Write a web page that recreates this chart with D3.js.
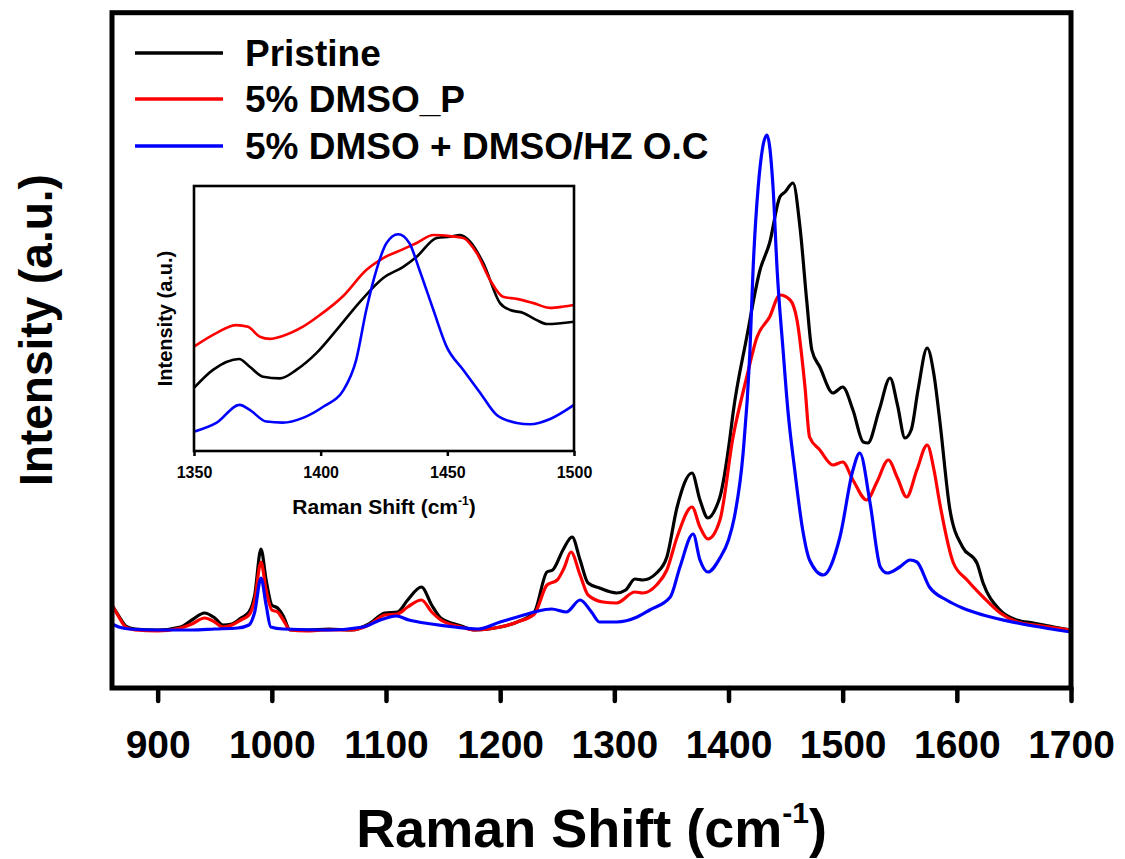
<!DOCTYPE html>
<html>
<head>
<meta charset="utf-8">
<script src="https://cdn.jsdelivr.net/npm/d3@7/dist/d3.min.js"></script>
<style>
  html, body { margin: 0; padding: 0; background: #fff; }
  svg { display: block; }
  text { font-family: "Liberation Sans", Arial, sans-serif; font-weight: bold; fill: #000; }
</style>
</head>
<body>
<svg id="chart" width="1125" height="859"></svg>
<script>
// ---------- DATA ----------
const seriesNames = ["Pristine", "5% DMSO_P", "5% DMSO + DMSO/HZ O.C"];
const seriesColors = ["#000000", "#ff0000", "#0000ff"];
const mainTicks = [900, 1000, 1100, 1200, 1300, 1400, 1500, 1600, 1700];
const insetTicks = [1350, 1400, 1450, 1500];

// Main spectrum: Pristine
const pristineX = [860,866,872,880,900,920,930,941,950,957,965,973,980,985,990.5,995,1000,1005,1010,1016,1030,1050,1070,1085,1099,1110,1119,1131,1140,1148,1166,1178,1200,1215,1230,1241,1246,1255,1263,1270,1277,1287,1302,1310,1318,1325,1337,1346,1355,1368,1375,1382,1390,1392.5,1401,1404,1416,1427.6,1436,1445,1449.5,1456.5,1462.6,1468.7,1473,1480,1491.5,1500,1509,1518,1522,1532,1541.5,1548,1554.6,1560,1566,1574,1580,1585,1594,1605,1617.6,1623,1637.8,1652.6,1667,1685,1700];
const pristineY = [5.4,3.2,1.2,0.6,0.4,1.0,2.4,3.8,2.8,1.4,1.6,2.8,4.0,7.4,16.6,10.4,5.4,4.8,3.2,0.4,0.4,0.6,0.4,1.6,3.8,4.0,6.4,9.0,5.4,2.8,1.2,0.4,1.0,2.0,4.0,12.0,12.4,16.4,19.0,14.4,9.8,8.8,7.8,8.4,10.6,10.4,11.8,15.0,25.0,31.8,26.4,22.8,25.4,27.0,38.4,43.8,59.0,72.4,77.8,87.0,88.0,89.8,81.0,65.8,56.4,53.0,47.8,49.0,44.4,38.0,37.8,44.4,50.8,45.4,38.8,40.4,48.4,56.8,51.4,42.4,24.4,17.0,13.8,9.8,4.4,2.4,1.8,1.0,0.4];

// Main spectrum: 5% DMSO_P
const dmsoPX = [860,866,872,880,900,920,930,941,950,957,965,973,980,985,990.5,995,1000,1005,1010,1016,1030,1050,1070,1085,1099,1110,1119,1131,1140,1148,1166,1178,1200,1215,1230,1241,1250,1256,1262,1270,1277,1290,1302,1318,1325,1337,1346,1355,1368,1375,1382,1392.5,1404,1416,1425,1436,1445,1454,1460,1467,1471,1480,1491.5,1500,1509,1521,1530,1540,1548,1556,1565,1574,1580,1585,1597,1609,1623,1638,1653,1675,1700];
const dmsoPY = [5.4,3.0,1.0,0.4,0.2,0.8,1.6,2.8,2.0,1.0,1.4,2.4,3.4,6.4,14.0,8.4,4.4,4.0,2.4,0.4,0.2,0.4,0.4,1.4,3.4,3.6,5.0,6.4,4.0,2.4,1.0,0.4,1.0,2.0,3.6,9.4,10.4,12.8,16.0,11.4,7.4,6.0,5.8,8.0,7.8,9.4,12.4,19.0,25.0,21.0,18.6,22.4,39.0,51.0,59.0,63.0,67.4,66.4,62.4,49.0,39.0,36.4,33.4,34.0,30.4,26.4,30.0,34.4,30.8,27.0,32.4,37.4,32.4,25.8,13.8,10.4,7.0,3.8,2.0,1.2,0.4];

// Main spectrum: 5% DMSO + DMSO/HZ O.C
const dmsoHzX = [860,866,875,900,930,950,970,980,985,990.5,995,999,1010,1050,1080,1095,1109,1120,1140,1160,1180,1200,1215,1230,1245,1258,1270,1280,1287,1302,1320,1331,1349,1357.5,1369,1375,1382,1392.5,1400,1405,1412.8,1418.7,1421.5,1426,1433.7,1439,1442.6,1448,1452,1458,1465,1471,1483,1497.6,1509,1515,1524,1533,1539,1550,1559,1565,1576,1591,1605,1623,1653,1700];
const dmsoHzY = [1.6,1.0,0.6,0.4,0.4,0.6,0.8,1.4,4.0,10.8,5.4,1.0,0.6,0.4,1.0,2.4,3.2,2.4,1.6,1.0,0.6,2.0,3.0,4.0,4.6,4.0,6.4,4.0,2.0,2.0,3.0,4.4,7.0,13.0,19.6,14.4,12.0,14.8,18.4,22.8,35.8,55.8,72.4,89.0,99.4,89.0,72.4,55.8,44.4,32.4,20.4,14.4,11.4,19.0,32.4,35.8,25.8,13.0,11.8,13.0,14.4,14.0,9.0,6.4,4.8,3.4,1.8,0.0];

// Inset (normalised) spectra, 1350-1500 cm-1
const insetPristineX = [1350,1357.5,1367.8,1372,1377.3,1383.9,1390.4,1398.4,1406.3,1415.5,1424.7,1432.6,1437.9,1445.8,1451,1455,1459,1464.2,1470.8,1474.8,1480,1485.3,1489.3,1500];
const insetPristineY = [23.8,30.6,34.7,31.8,28.0,27.4,30.6,37.0,45.7,56.3,65.3,69.5,73.3,80.4,80.9,81.5,79.0,70.9,55.8,53.2,52.1,49.4,47.9,48.8];
const insetDmsoPX = [1350,1358.8,1366.7,1371.3,1376,1380,1385,1393,1399.7,1408.9,1418,1424.7,1432.6,1437.9,1444.5,1451,1456.3,1461.6,1466.9,1472,1477.4,1484,1490.6,1495.9,1500];
const insetDmsoPY = [39.4,44.5,47.5,46.9,43.1,42.3,43.4,46.9,51.3,58.5,68.3,72.8,76.2,78.5,81.5,81.1,80.4,74.7,64.5,58.2,57.4,55.8,54.0,54.5,55.1];
const insetDmsoHzX = [1350,1358.8,1368,1372,1378.6,1385,1393,1401,1409,1414,1418,1422,1426,1430.6,1435,1439,1444.5,1449.7,1456.3,1463,1469.5,1477.4,1482.7,1490.6,1500];
const insetDmsoHzY = [7.3,10.6,17.4,15.5,11.1,10.7,12.5,16.7,23.0,34.3,53.2,68.3,78.5,81.8,78.5,68.3,53.2,39.4,30.6,21.9,13.6,10.6,10.1,12.1,17.4];

// ---------- DRAW ----------
const svg = d3.select("#chart");
const zip = (xs, ys) => xs.map((x, i) => [x, ys[i]]);

const mainSeries = [zip(pristineX, pristineY), zip(dmsoPX, dmsoPY), zip(dmsoHzX, dmsoHzY)];
const insetSeries = [zip(insetPristineX, insetPristineY), zip(insetDmsoPX, insetDmsoPY), zip(insetDmsoHzX, insetDmsoHzY)];

// main plot geometry
const M = { left: 112, right: 1071, top: 12.7, bottom: 688 };
const x = d3.scaleLinear().domain([860, 1700]).range([M.left, M.right]);
const y = d3.scaleLinear().domain([-11.2, 123.86]).range([M.bottom, M.top]);

svg.append("defs").append("clipPath").attr("id", "mainclip")
  .append("rect").attr("x", M.left).attr("y", M.top)
  .attr("width", M.right - M.left).attr("height", M.bottom - M.top);

const line = d3.line().x(d => x(d[0])).y(d => y(d[1])).curve(d3.curveMonotoneX);
svg.append("g").attr("clip-path", "url(#mainclip)")
  .selectAll("path").data(mainSeries).join("path")
  .attr("d", line).attr("fill", "none")
  .attr("stroke", (d, i) => seriesColors[i])
  .attr("stroke-width", 3.2).attr("stroke-linejoin", "round");

// x axis
const xAxis = d3.axisBottom(x).tickValues(mainTicks).tickSize(13).tickPadding(16).tickFormat(d3.format("d"));
const gx = svg.append("g").attr("transform", `translate(0,${M.bottom})`).call(xAxis);
gx.select(".domain").remove();
gx.selectAll(".tick line").attr("stroke", "#000").attr("stroke-width", 4.5).attr("stroke-linecap", "round");
gx.selectAll(".tick text").attr("font-size", 39).attr("font-family", "Liberation Sans, Arial, sans-serif")
  .attr("font-weight", "bold").attr("fill", "#000").attr("dy", null).attr("y", 70);

// frame
svg.append("rect").attr("x", M.left).attr("y", M.top)
  .attr("width", M.right - M.left).attr("height", M.bottom - M.top)
  .attr("fill", "none").attr("stroke", "#000").attr("stroke-width", 5);

// axis titles
const xt = svg.append("text").attr("x", (M.left + M.right) / 2).attr("y", 847)
  .attr("text-anchor", "middle").attr("font-size", 54);
xt.append("tspan").text("Raman Shift (cm");
xt.append("tspan").attr("font-size", 30).attr("dy", -24).text("-1");
xt.append("tspan").attr("dy", 24).text(")");

svg.append("text").attr("transform", "translate(52,330) rotate(-90)")
  .attr("text-anchor", "middle").attr("font-size", 46).text("Intensity (a.u.)");

// legend
const legY = [53, 99, 146];
const leg = svg.append("g");
seriesNames.forEach((name, i) => {
  leg.append("line").attr("x1", 135).attr("x2", 223).attr("y1", legY[i]).attr("y2", legY[i])
    .attr("stroke", seriesColors[i]).attr("stroke-width", 3.5);
  leg.append("text").attr("x", 245).attr("y", legY[i] + 13).attr("font-size", 37).text(name);
});

// ---------- INSET ----------
const I = { left: 194, right: 574, top: 186, bottom: 451 };
const ix = d3.scaleLinear().domain([1350, 1500]).range([I.left, I.right]);
const iy = d3.scaleLinear().domain([0, 100]).range([I.bottom, I.top]);

svg.append("rect").attr("x", I.left).attr("y", I.top)
  .attr("width", I.right - I.left).attr("height", I.bottom - I.top).attr("fill", "#fff");

svg.select("defs").append("clipPath").attr("id", "insetclip")
  .append("rect").attr("x", I.left).attr("y", I.top)
  .attr("width", I.right - I.left).attr("height", I.bottom - I.top);

const iline = d3.line().x(d => ix(d[0])).y(d => iy(d[1])).curve(d3.curveMonotoneX);
svg.append("g").attr("clip-path", "url(#insetclip)")
  .selectAll("path").data(insetSeries).join("path")
  .attr("d", iline).attr("fill", "none")
  .attr("stroke", (d, i) => seriesColors[i])
  .attr("stroke-width", 2.6).attr("stroke-linejoin", "round");

const ixAxis = d3.axisBottom(ix).tickValues(insetTicks).tickSize(5).tickPadding(6).tickFormat(d3.format("d"));
const gix = svg.append("g").attr("transform", `translate(0,${I.bottom})`).call(ixAxis);
gix.select(".domain").remove();
gix.selectAll(".tick line").attr("stroke", "#000").attr("stroke-width", 2.5);
gix.selectAll(".tick text").attr("font-size", 16).attr("font-family", "Liberation Sans, Arial, sans-serif")
  .attr("font-weight", "bold").attr("fill", "#000").attr("dy", null).attr("y", 27);

svg.append("rect").attr("x", I.left).attr("y", I.top)
  .attr("width", I.right - I.left).attr("height", I.bottom - I.top)
  .attr("fill", "none").attr("stroke", "#000").attr("stroke-width", 2.6);

const ixt = svg.append("text").attr("x", (I.left + I.right) / 2).attr("y", 514)
  .attr("text-anchor", "middle").attr("font-size", 21);
ixt.append("tspan").text("Raman Shift (cm");
ixt.append("tspan").attr("font-size", 12).attr("dy", -9).text("-1");
ixt.append("tspan").attr("dy", 9).text(")");

svg.append("text").attr("transform", `translate(172,${(I.top + I.bottom) / 2}) rotate(-90)`)
  .attr("text-anchor", "middle").attr("font-size", 20).text("Intensity (a.u.)");
</script>
</body>
</html>
